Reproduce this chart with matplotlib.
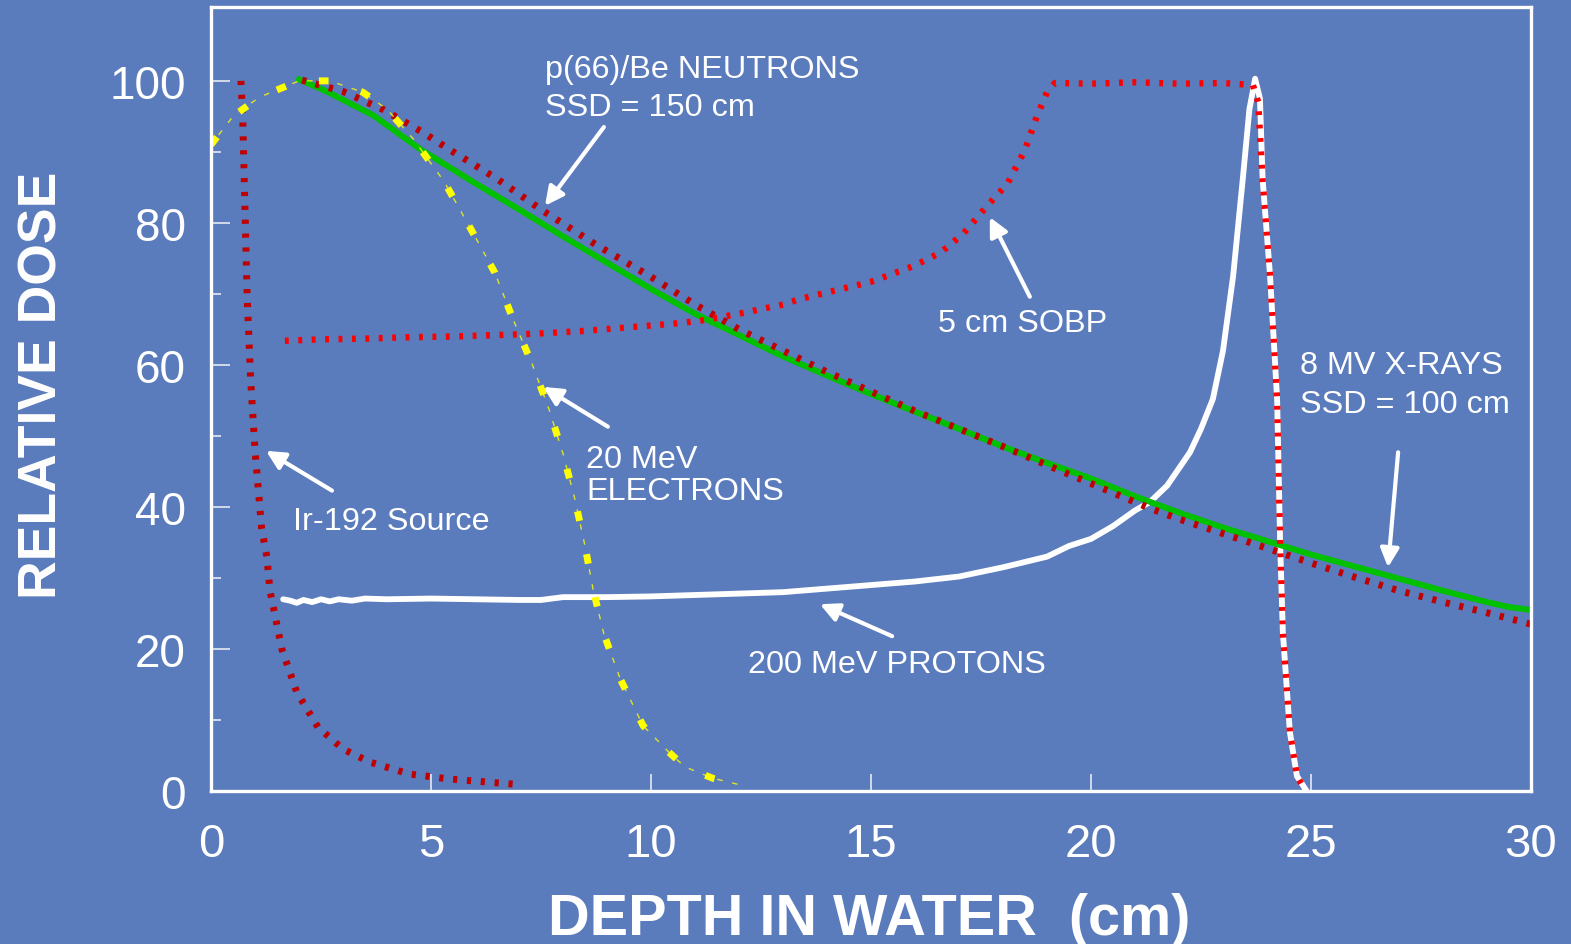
import matplotlib
matplotlib.use('Agg')
import matplotlib.pyplot as plt
import numpy as np

# depth (cm) / relative dose
xray_x = [2.0, 2.6, 3.7, 4.75, 6, 7, 8, 9, 10, 11, 12, 13, 14, 15, 16, 17, 18, 19, 20, 21, 22, 23, 24, 25, 26, 27, 28, 29, 29.5, 30]
xray_y = [100.2, 98.6, 95.1, 90.4, 85.6, 81.9, 78.1, 74.4, 70.7, 67.2, 64.2, 61.2, 58.5, 55.9, 53.4, 51.0, 48.5, 46.2, 44.0, 41.5, 39.2, 37.1, 35.2, 33.3, 31.6, 29.9, 28.2, 26.6, 25.9, 25.5]

neut_x = [2.07, 3.0, 3.9, 4.8, 5.4, 6.5, 7.52, 8.73, 9.64, 10, 11, 12, 14, 16, 18, 20, 21.34, 22, 24, 25, 26, 27, 28, 29, 30]
neut_y = [100.1, 98.5, 96.0, 92.8, 90.4, 86.2, 81.8, 77.0, 73.7, 72.4, 68.5, 65.0, 59.0, 53.5, 48.5, 43.3, 39.8, 38.3, 34.2, 32.1, 30.1, 28.2, 26.6, 25.1, 23.5]

ir_x = [0.68, 0.72, 0.76, 0.82, 0.9, 1.0, 1.15, 1.27, 1.34, 1.61, 1.95, 2.43, 3.0, 3.6, 4.5, 5.4, 7.0]
ir_y = [100, 95, 85, 70, 58, 48, 37, 33, 28.2, 20, 13.9, 9.0, 5.9, 4.1, 2.4, 1.7, 0.9]

elec_x = [0.0, 0.5, 1.1, 2.0, 2.7, 3.45, 4.0, 4.6, 5.3, 5.9, 6.45, 6.86, 7.3, 7.68, 8.0, 8.27, 8.5, 8.68, 8.93, 9.3, 9.82, 10.4, 10.77, 11.4, 12.0]
elec_y = [91, 95, 97.7, 100, 100, 98.4, 96, 91.8, 85.8, 79.2, 73, 66.5, 60.1, 53.8, 47.5, 41.1, 34.5, 28.5, 22.1, 15.8, 9.2, 5.5, 3.4, 1.8, 0.9]

prot_x = [1.64, 1.8, 1.95, 2.1, 2.3, 2.5, 2.7, 2.9, 3.2, 3.5, 4, 5, 6, 7, 7.5, 8, 9, 10, 11, 12, 13, 14, 15, 16, 17, 18, 19, 19.5, 20, 20.5, 21, 21.34, 21.73, 22.25, 22.5, 22.77, 23.0, 23.23, 23.45, 23.6, 23.73, 23.84, 23.9, 24.07, 24.23, 24.3, 24.36, 24.52, 24.68, 24.9]
prot_y = [27.0, 26.8, 26.5, 26.9, 26.6, 27.0, 26.7, 27.0, 26.8, 27.1, 27.0, 27.1, 27.0, 26.9, 26.9, 27.3, 27.3, 27.4, 27.6, 27.8, 28.0, 28.5, 29.0, 29.5, 30.2, 31.5, 33.0, 34.5, 35.5, 37.3, 39.5, 40.7, 43.0, 47.7, 51.0, 55.2, 62.0, 72.5, 86.2, 96.0, 100.3, 97.5, 86.2, 72.5, 55.2, 34.5, 22.4, 8.3, 2.1, 0.0]

sobp_x = [1.68, 2.5, 3.5, 4.5, 5.5, 6.5, 7.4, 8.5, 9.5, 10.5, 11.1, 12, 13, 13.4, 14, 15, 16, 16.6, 17.1, 17.64, 18.1, 18.5, 18.77, 19.0, 19.18, 20, 21, 22, 23, 23.68, 23.8, 23.9, 24.07, 24.23, 24.3, 24.36, 24.52, 24.68, 24.85]
sobp_y = [63.4, 63.6, 63.7, 63.9, 64.0, 64.2, 64.4, 64.8, 65.3, 65.8, 66.2, 67.2, 68.5, 69.3, 70.2, 71.7, 74.0, 75.9, 78.5, 82.4, 85.5, 90.3, 95.0, 98.4, 99.7, 99.6, 99.8, 99.6, 99.7, 99.4, 97.0, 86.0, 72.5, 55.0, 34.5, 22.4, 8.3, 2.1, 0.3]

# label text, text anchor, arrow tail, arrow tip
labels = [
    (["p(66)/Be NEUTRONS", "SSD = 150 cm"], (7.59, 100.56), (8.93, 93.5), (7.59, 82.4)),
    (["5 cm SOBP"], (16.52, 64.8), (18.61, 69.6), (17.7, 80.8)),
    (["8 MV X-RAYS", "SSD = 100 cm"], (24.75, 58.8), (26.98, 47.7), (26.75, 31.5)),
    (["20 MeV", "ELECTRONS"], (8.52, 45.6), (9.02, 51.3), (7.55, 56.9)),
    (["Ir-192 Source"], (1.86, 36.9), (2.75, 42.3), (1.25, 47.9)),
    (["200 MeV PROTONS"], (12.2, 16.8), (15.48, 21.8), (13.84, 26.3)),
]

bg = '#5A7BBC'
plt.rcParams['font.family'] = ['Liberation Sans', 'DejaVu Sans']

fig = plt.figure(figsize=(15.71, 9.45), dpi=100, facecolor=bg)
ax = fig.add_axes([211/1571, 1-792/945, 1320/1571, 784/945], facecolor=bg)

ax.plot(prot_x, prot_y, color='white', lw=4.2, solid_capstyle='round')
ax.plot(xray_x, xray_y, color='#00C000', lw=4.3)
ax.plot(neut_x, neut_y, color='#C00000', lw=5.0, ls=(0, (0.6, 1.4)))
ax.plot(ir_x, ir_y, color='#C00000', lw=5.0, ls=(0, (0.6, 1.4)))
ax.plot(sobp_x, sobp_y, color='#FF0000', lw=4.6, ls=(0, (0.6, 1.5)))
ax.plot(elec_x, elec_y, color='#FFFF00', lw=1.0, ls=(2, (4, 7)), alpha=0.8)
ax.plot(elec_x, elec_y, color='#FFFF00', lw=5.0, ls=(0, (1.4, 4.9)))

for lines, pos, tail, tip in labels:
    step = 5.4 if lines[0].startswith(('p(', '8 MV')) else 4.5
    for i, s in enumerate(lines):
        ax.text(pos[0], pos[1] - i*step, s, color='white', fontsize=23.3,
                ha='left', va='baseline')
    ax.annotate('', xy=tip, xytext=tail,
                arrowprops=dict(arrowstyle='-|>', color='white', lw=3,
                                mutation_scale=28, shrinkA=0, shrinkB=0))

ax.set_xlim(0, 30)
ax.set_ylim(0, 110.4)
ax.set_xticks([0, 5, 10, 15, 20, 25, 30])
ax.set_yticks([0, 20, 40, 60, 80, 100])
ax.set_yticks([10, 30, 50, 70, 90], minor=True)
ax.tick_params(axis='both', which='both', direction='in', colors='#E3EAF6', width=1.2)
ax.tick_params(axis='y', which='major', length=14, labelsize=33, pad=18, labelcolor='white')
ax.tick_params(axis='y', which='minor', length=7)
ax.tick_params(axis='x', which='major', length=12, labelsize=34, pad=22, labelcolor='white')
for sp in ax.spines.values():
    sp.set_color('white')
    sp.set_linewidth(2.4)

ax.set_xlabel('DEPTH IN WATER  (cm)', color='white', fontsize=41.5, fontweight='bold', va='center')
ax.xaxis.set_label_coords(0.499, -0.163)
ax.set_ylabel('RELATIVE DOSE', color='white', fontsize=38.5, fontweight='bold', va='center')
ax.yaxis.set_label_coords(-0.128, 0.519)

fig.savefig('out.png', dpi=100, facecolor=bg)
